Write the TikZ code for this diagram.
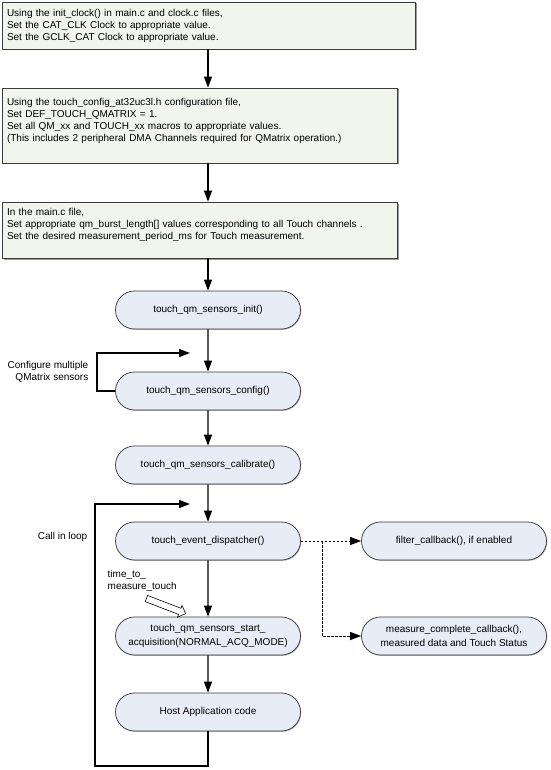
\documentclass[tikz,border=0pt]{standalone}
\usepackage{fontspec}
\setmainfont{Liberation Sans}
\usetikzlibrary{arrows.meta,shapes.misc,shapes.arrows,shadows}

\definecolor{boxfill}{RGB}{242,244,238}
\definecolor{termfill}{RGB}{232,236,246}
\definecolor{edge}{RGB}{60,60,60}

\tikzset{every picture/.style={line width=0.75pt}}
\tikzset{
  infobox/.style={draw=edge, fill=boxfill, rectangle, align=left, inner xsep=5pt,
    drop shadow={shadow xshift=1.5pt, shadow yshift=-1.5pt, fill=gray!80, opacity=1},
    font=\fontsize{10}{12}\selectfont},
  term/.style={draw=edge, fill=termfill, rounded rectangle, minimum width=189pt,
    minimum height=38pt, align=center, inner sep=2pt,
    drop shadow={shadow xshift=0.8pt, shadow yshift=-0.8pt, fill=gray!60, opacity=1},
    font=\fontsize{10}{13.5}\selectfont},
  flow/.style={draw, line width=1.3pt, -{Triangle[length=11pt,width=8pt]}},
  dotflow/.style={draw, line width=1pt, dash pattern={on 2.5pt off 1.5pt},
    -{Triangle[length=11pt,width=8pt]}},
  note/.style={font=\fontsize{10}{12.5}\selectfont}
}

\begin{document}
\begin{tikzpicture}[x=1pt, y=-1pt]
    \useasboundingbox (0,0) rectangle (550,770);

    % setup boxes
    \node[infobox, minimum width=413pt, minimum height=47pt, text width=403pt] (clk) at (208.5,25.5)
      {Using the init\_clock() in main.c and clock.c files,\\
       Set the CAT\_CLK Clock to appropriate value.\\
       Set the GCLK\_CAT Clock to appropriate value.};
    \node[infobox, minimum width=395pt, minimum height=75pt, text width=385pt] (conf) at (199.5,125.5)
      {Using the touch\_config\_at32uc3l.h configuration file,\\
       Set DEF\_TOUCH\_QMATRIX = 1.\\
       Set all QM\_xx and TOUCH\_xx macros to appropriate values.\\
       (This includes 2 peripheral DMA Channels required for QMatrix operation.)\\ ~};
    \node[infobox, minimum width=395pt, minimum height=56pt, text width=385pt] (mainc) at (199.5,230)
      {In the main.c file,\\
       Set appropriate qm\_burst\_length[] values corresponding to all Touch channels .\\
       Set the desired measurement\_period\_ms for Touch measurement.\\ ~};

    % API calls
    \node[term] (init) at (208,310) {touch\_qm\_sensors\_init()};
    \node[term] (cfg) at (208,391) {touch\_qm\_sensors\_config()};
    \node[term] (calib) at (208,465) {touch\_qm\_sensors\_calibrate()};
    \node[term] (disp) at (208,541) {touch\_event\_dispatcher()};
    \node[term] (start) at (208,636) {touch\_qm\_sensors\_start\_\\acquisition(NORMAL\_ACQ\_MODE)};
    \node[term] (host) at (208,712) {Host Application code};
    \node[term] (filt) at (454,541) {filter\_callback(), if enabled};
    \node[term] (meas) at (454,636) {measure\_complete\_callback(),\\measured data and Touch Status};

    % labels
    \node[note, anchor=east, align=right] (cfglbl) at (92,372) {Configure multiple\\QMatrix sensors};
    \node[note, anchor=east] (looplbl) at (91,537) {Call in loop};
    \node[note, anchor=west, align=left] (ttmlbl) at (104,581) {time\_to\_\\measure\_touch};
    \node[single arrow, draw=black, fill=white, line width=0.6pt, rotate=-21, minimum height=42pt,
      inner xsep=0pt, inner ysep=3pt, single arrow head extend=3pt, single arrow head indent=0pt]
      (ttm) at (164.5,605.5) {};

    \coordinate (cfgback) at (190,353);
    \coordinate (loopback) at (190,504);
    \coordinate (loopcorner) at (95,766);
    \coordinate (split) at (322,541);

    % main flow
    \draw[flow] (clk.south -| init) -- (conf.north -| init);
    \draw[flow] (conf.south -| init) -- (mainc.north -| init);
    \draw[flow] (mainc.south -| init) -- (init.north);
    \draw[flow] (init) -- (cfg);
    \draw[flow] (cfg) -- (calib);
    \draw[flow] (calib) -- (disp);
    \draw[flow] (disp) -- (start);
    \draw[flow] (start) -- (host);
    \draw[flow] (cfg.west) -- ++(-18,0) |- (cfgback);
    \draw[flow] (host.south) |- (loopcorner) |- (loopback);

    % callbacks
    \draw[dotflow] (disp.east) -- (filt.west);
    \draw[dotflow] (split) |- (meas.west);
\end{tikzpicture}
\end{document}
